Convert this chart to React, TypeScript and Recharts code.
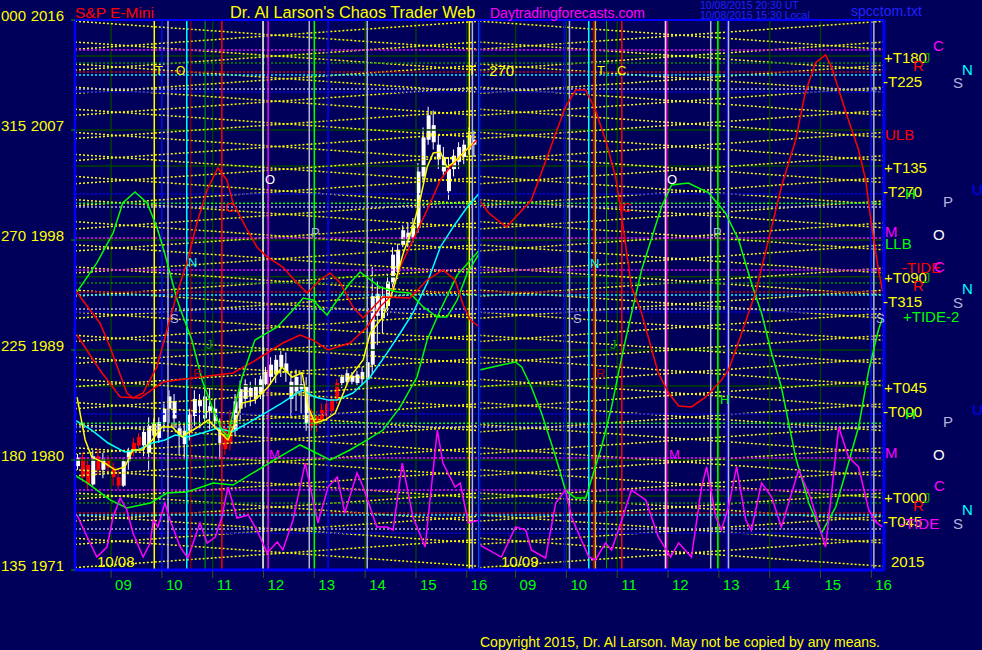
import React from 'react';
import { ComposedChart, XAxis, YAxis, Bar, Cell, Line, ReferenceLine } from 'recharts';

// session layout: two trading days side by side, hours on the x axis
const SESSION_START = 8.29;
const SESSION_LEN = 7.96;
const DOMAIN_END = SESSION_START + 2 * SESSION_LEN;

const hourTicks = [9, 10, 11, 12, 13, 14, 15, 16];
const priceTicks = [1971, 1980, 1989, 1998, 2007, 2016];
const degreeTicks = ['135', '180', '225', '270', '315', '000'];

// 6 minute candles, 10/08, starting 08:20
const candleStart = 8.34;
const candleStep = 0.1;
const candleOpen = [
  1979.5, 1980.2, 1979.6, 1978.0, 1980.3, 1979.2, 1980.1, 1979.4, 1978.6, 1977.9,
  1979.9, 1981.4, 1981.9, 1981.2, 1980.6, 1982.0, 1981.8, 1983.1, 1984.2, 1983.4,
  1982.0, 1981.3, 1982.4, 1983.6, 1984.4, 1983.4, 1984.0, 1983.2, 1981.4, 1982.6,
  1983.2, 1982.4, 1984.2, 1985.0, 1985.2, 1985.0, 1985.4, 1986.2, 1986.8, 1987.0,
  1987.6, 1987.2, 1985.0, 1985.6, 1985.8, 1983.0, 1984.0, 1983.6, 1984.1, 1984.6,
  1985.0, 1986.3, 1986.3, 1986.4, 1986.4, 1986.3, 1986.6, 1986.6, 1987.8, 1991.8,
  1991.6, 1992.6, 1994.4, 1995.4, 1997.6, 1997.8, 1998.2, 1999.0, 2003.2, 2006.2,
  2006.0, 2004.6, 2003.6, 2002.0, 2003.8, 2004.4, 2004.8, 2005.4, 2005.8,
];
const candleHigh = [
  1980.5, 1980.6, 1980.2, 1980.8, 1980.9, 1980.6, 1980.4, 1979.8, 1979.3, 1980.2,
  1981.0, 1981.8, 1982.2, 1982.6, 1983.5, 1983.4, 1983.5, 1984.6, 1985.7, 1985.4,
  1983.2, 1983.0, 1984.2, 1985.7, 1985.4, 1985.8, 1985.9, 1985.0, 1983.4, 1983.2,
  1984.1, 1985.4, 1986.5, 1986.6, 1986.4, 1986.7, 1986.9, 1987.6, 1988.4, 1988.6,
  1989.1, 1988.8, 1987.2, 1987.4, 1987.2, 1986.8, 1984.2, 1984.0, 1984.6, 1985.0,
  1985.3, 1986.6, 1987.0, 1987.4, 1987.2, 1987.3, 1987.6, 1988.8, 1995.8, 1994.6,
  1994.2, 1995.2, 1997.4, 1997.7, 1999.2, 1999.4, 1999.8, 2004.3, 2007.2, 2008.9,
  2008.6, 2006.6, 2005.6, 2004.8, 2005.4, 2006.0, 2006.2, 2007.2, 2007.0,
];
const candleLow = [
  1979.2, 1978.2, 1977.5, 1977.9, 1978.8, 1978.5, 1979.0, 1977.9, 1977.6, 1977.8,
  1979.2, 1980.3, 1980.9, 1980.3, 1979.2, 1981.4, 1981.4, 1982.4, 1983.0, 1982.6,
  1980.4, 1980.0, 1981.6, 1982.8, 1982.6, 1983.0, 1982.5, 1982.6, 1980.0, 1980.4,
  1980.8, 1982.0, 1983.3, 1984.3, 1984.4, 1984.6, 1985.0, 1986.0, 1986.2, 1986.3,
  1986.8, 1986.4, 1983.6, 1984.0, 1983.8, 1982.4, 1982.4, 1982.3, 1983.0, 1983.2,
  1983.6, 1984.6, 1985.9, 1986.1, 1986.2, 1986.1, 1986.2, 1986.1, 1987.0, 1989.4,
  1990.4, 1991.8, 1993.8, 1994.8, 1997.4, 1997.4, 1997.8, 1998.6, 2002.8, 2005.8,
  2005.4, 2003.8, 2003.2, 2001.3, 2003.2, 2003.8, 2004.2, 2005.0, 2004.8,
];
const candleClose = [
  1980.2, 1978.6, 1978.0, 1980.3, 1979.2, 1980.1, 1979.4, 1978.6, 1977.9, 1979.9,
  1980.7, 1980.8, 1981.2, 1982.3, 1982.8, 1983.0, 1983.1, 1984.2, 1985.2, 1984.8,
  1982.6, 1982.4, 1983.8, 1985.0, 1984.9, 1985.2, 1984.4, 1984.2, 1982.6, 1980.9,
  1981.4, 1984.8, 1985.8, 1986.2, 1985.9, 1986.0, 1986.6, 1987.2, 1987.8, 1988.2,
  1988.6, 1987.9, 1986.4, 1986.8, 1986.2, 1986.0, 1982.8, 1982.9, 1983.3, 1983.6,
  1984.0, 1985.0, 1986.8, 1987.1, 1986.9, 1987.0, 1987.2, 1988.0, 1993.4, 1993.6,
  1993.4, 1994.6, 1996.8, 1997.2, 1998.8, 1998.6, 1999.2, 2003.6, 2006.4, 2008.2,
  2007.4, 2005.8, 2004.8, 2003.8, 2004.9, 2005.6, 2005.8, 2006.6, 2006.2,
];

// moving averages on 10/08, [hour, price]
const yellowAvg = [
  [8.33, 1985.15], [8.49, 1981.64], [8.62, 1980.24], [8.88, 1979.75], [9.08, 1979.18],
  [9.27, 1979.43], [9.43, 1980.82], [9.61, 1980.82], [9.81, 1981.64], [10.0, 1982.7],
  [10.2, 1982.7], [10.4, 1981.88], [10.51, 1982.21], [10.71, 1982.7], [10.91, 1983.27],
  [11.1, 1982.45], [11.3, 1981.64], [11.44, 1983.03], [11.58, 1984.66], [11.83, 1984.91],
  [12.09, 1985.97], [12.36, 1987.61], [12.56, 1986.79], [12.76, 1987.12], [12.88, 1984.34],
  [13.01, 1983.03], [13.21, 1983.27], [13.41, 1983.84], [13.7, 1986.79], [13.96, 1988.18],
  [14.1, 1990.39], [14.35, 1991.7], [14.55, 1993.91], [14.75, 1996.94], [14.94, 1999.06],
  [15.08, 2001.27], [15.22, 2003.97], [15.34, 2005.12], [15.48, 2005.2], [15.61, 2003.97],
  [15.73, 2004.3], [15.93, 2005.12], [16.12, 2005.94],
];
const cyanAvg = [
  [8.29, 1983.27], [8.62, 1982.45], [8.94, 1981.39], [9.27, 1980.65], [9.53, 1980.82],
  [9.81, 1981.39], [10.06, 1981.64], [10.26, 1982.04], [10.51, 1981.88], [10.79, 1982.21],
  [11.1, 1982.62], [11.38, 1982.29], [11.7, 1983.03], [12.03, 1983.84], [12.36, 1984.66],
  [12.76, 1985.73], [13.01, 1985.15], [13.27, 1984.91], [13.45, 1984.91], [13.76, 1985.48],
  [14.1, 1986.79], [14.43, 1988.75], [14.69, 1990.39], [14.94, 1992.03], [15.22, 1994.48],
  [15.48, 1997.43], [15.73, 1999.06], [16.01, 2000.7], [16.25, 2001.85],
];
const redAvg = [
  [8.33, 1990.23], [8.78, 1987.36], [9.18, 1985.15], [9.57, 1985.07], [10.02, 1986.38],
  [10.75, 1986.79], [11.4, 1987.12], [11.79, 1988.02], [12.38, 1989.57], [12.72, 1990.23],
  [12.97, 1989.82], [13.27, 1989.0], [13.7, 1989.57], [14.04, 1990.88], [14.29, 1992.52],
  [14.49, 1993.34], [14.69, 1995.79], [14.94, 1998.0], [15.22, 2000.45], [15.48, 2002.91],
  [15.67, 2003.97], [15.93, 2005.12], [16.2, 2006.18],
];
const greenAvg = [
  [8.31, 1978.69], [8.53, 1978.12], [8.98, 1976.73], [9.31, 1976.07], [9.77, 1976.48],
  [10.1, 1977.3], [10.49, 1977.38], [11.01, 1978.12], [11.4, 1977.95], [11.79, 1978.94],
  [12.27, 1980.16], [12.72, 1981.23], [12.92, 1980.82], [13.31, 1980.0], [13.7, 1980.82],
  [14.04, 1981.64], [14.35, 1982.45], [14.69, 1984.34], [15.02, 1986.79], [15.22, 1989.82],
  [15.48, 1992.27], [15.81, 1995.13], [16.25, 1997.18],
];

// forecast curves, [hour, price]
const greenForecast1 = [
  [8.33, 1993.75], [8.72, 1996.12], [9.04, 1998.57], [9.23, 2001.03], [9.47, 2001.93],
  [9.71, 2001.03], [9.9, 1999.06], [10.02, 1997.43], [10.16, 1995.3], [10.3, 1993.09],
  [10.42, 1991.7], [10.59, 1989.82], [10.79, 1986.54], [10.99, 1984.34], [11.18, 1982.45],
  [11.3, 1981.88], [11.38, 1983.52], [11.58, 1986.79], [11.83, 1989.82], [12.27, 1990.88],
  [12.58, 1992.27], [12.78, 1993.25], [12.97, 1993.09], [13.25, 1991.86], [13.45, 1993.09],
  [13.7, 1994.48], [13.9, 1995.38], [14.29, 1994.15], [14.63, 1993.75], [14.88, 1993.66],
  [15.14, 1992.52], [15.42, 1991.7], [15.61, 1991.7], [15.81, 1993.09], [16.01, 1995.3],
  [16.25, 1996.94],
];
const greenForecast2 = [
  [8.29, 1987.36], [8.72, 1987.77], [9.0, 1988.02], [9.12, 1987.61], [9.31, 1985.97],
  [9.51, 1983.84], [9.79, 1980.24], [9.98, 1977.54], [10.18, 1976.89], [10.38, 1976.89],
  [10.49, 1978.36], [10.69, 1981.06], [10.89, 1984.34], [11.09, 1988.43], [11.22, 1990.88],
  [11.48, 1995.55], [11.87, 2000.7], [12.07, 2002.5], [12.4, 2002.66], [12.8, 2001.85],
  [13.13, 2000.21], [13.39, 1998.0], [13.64, 1994.48], [13.84, 1992.03], [14.02, 1989.0],
  [14.23, 1985.97], [14.51, 1980.24], [14.77, 1976.48], [15.02, 1974.03], [15.3, 1976.15],
  [15.55, 1979.75], [15.75, 1982.7], [15.95, 1987.36], [16.14, 1990.64], [16.22, 1991.62],
];
const redForecast1 = [
  [8.29, 1993.91], [8.78, 1991.21], [8.98, 1989.25], [9.31, 1985.48], [9.43, 1985.07],
  [9.63, 1985.48], [9.9, 1987.61], [10.1, 1990.64], [10.3, 1993.66], [10.49, 1996.12],
  [10.69, 1999.39], [10.89, 2002.09], [11.1, 2003.89], [11.28, 2002.91], [11.4, 2001.03],
  [11.68, 1998.82], [11.87, 1997.43], [12.07, 1996.61], [12.38, 1995.79], [12.66, 1994.48],
  [12.86, 1993.66], [13.11, 1994.73], [13.31, 1995.3], [13.51, 1994.48], [13.76, 1992.52],
  [13.96, 1991.62], [14.2, 1992.68], [14.35, 1993.34], [14.88, 1993.25], [15.22, 1994.73],
  [15.53, 1995.55], [15.77, 1994.73], [15.93, 1992.68], [16.07, 1991.45], [16.25, 1990.88],
];
const redForecast2 = [
  [8.29, 2001.27], [8.47, 2000.21], [8.82, 1999.06], [9.31, 2001.27], [9.65, 2005.12],
  [9.98, 2008.88], [10.18, 2010.27], [10.38, 2010.27], [10.57, 2008.64], [10.77, 2006.18],
  [10.97, 2003.15], [11.09, 1999.88], [11.28, 1994.15], [11.48, 1992.03], [11.68, 1989.0],
  [11.81, 1987.12], [12.01, 1985.48], [12.21, 1984.42], [12.46, 1984.34], [12.74, 1985.15],
  [13.05, 1986.54], [13.19, 1987.36], [13.45, 1990.39], [13.72, 1993.66], [14.04, 1999.06],
  [14.23, 2002.34], [14.51, 2006.18], [14.7, 2010.03], [14.9, 2012.48], [15.1, 2013.14],
  [15.22, 2012.15], [15.36, 2010.27], [15.55, 2007.82], [15.75, 2005.36], [15.89, 2002.91],
  [16.01, 1999.06], [16.14, 1995.55], [16.22, 1993.91],
];
const tide1 = [
  [8.33, 1975.5], [8.53, 1973.7], [8.72, 1972.06], [8.92, 1972.88], [9.04, 1975.34],
  [9.18, 1976.89], [9.31, 1975.91], [9.43, 1974.03], [9.63, 1972.06], [9.77, 1973.21],
  [9.83, 1975.09], [9.92, 1974.52], [10.06, 1976.48], [10.16, 1975.09], [10.36, 1972.88],
  [10.51, 1971.98], [10.75, 1974.85], [10.89, 1973.21], [11.05, 1973.7], [11.18, 1975.34],
  [11.3, 1977.79], [11.48, 1975.25], [11.7, 1975.5], [11.87, 1974.27], [12.07, 1972.39],
  [12.27, 1973.29], [12.38, 1972.64], [12.58, 1975.09], [12.82, 1979.75], [12.92, 1977.79],
  [13.07, 1974.85], [13.27, 1977.79], [13.45, 1978.61], [13.6, 1975.66], [13.84, 1978.94],
  [13.96, 1977.79], [14.23, 1974.52], [14.43, 1974.52], [14.55, 1974.27], [14.73, 1979.75],
  [14.94, 1975.34], [15.18, 1972.88], [15.42, 1982.45], [15.53, 1979.75], [15.77, 1977.79],
  [15.87, 1978.12], [16.03, 1974.85], [16.25, 1975.09],
];
const tide2 = [
  [8.29, 1973.05], [8.72, 1972.06], [9.0, 1974.52], [9.2, 1974.27], [9.31, 1972.64],
  [9.59, 1971.98], [9.79, 1976.48], [9.98, 1977.54], [10.1, 1975.34], [10.44, 1972.06],
  [10.57, 1971.82], [10.77, 1973.21], [10.89, 1972.64], [11.09, 1975.09], [11.28, 1977.54],
  [11.56, 1976.73], [11.81, 1973.7], [12.05, 1972.06], [12.21, 1973.21], [12.46, 1972.06],
  [12.66, 1977.79], [12.76, 1979.43], [12.94, 1975.34], [13.05, 1974.27], [13.19, 1976.15],
  [13.35, 1979.43], [13.53, 1975.09], [13.64, 1974.27], [13.84, 1978.12], [14.04, 1976.97],
  [14.23, 1974.52], [14.57, 1979.18], [14.8, 1976.97], [15.1, 1972.88], [15.36, 1982.7],
  [15.55, 1980.24], [15.75, 1979.43], [15.95, 1975.91], [16.09, 1974.93], [16.22, 1974.52],
];

// yellow chaos lattice, price at start and end of each session
const riseStart = [
  1971.2, 1973.1, 1975.0, 1976.8, 1978.7, 1980.5, 1982.3, 1984.2, 1986.0, 1987.9, 1989.7, 1991.6,
  1993.4, 1995.3, 1997.1, 1998.9, 2000.8, 2002.6, 2004.5, 2006.3, 2008.2, 2010.0, 2011.9, 2013.6,
];
const riseEnd = [
  1973.5, 1975.4, 1977.3, 1979.1, 1981.0, 1982.8, 1984.6, 1986.5, 1988.3, 1990.2, 1992.0, 1993.9,
  1995.7, 1997.6, 1999.4, 2001.2, 2003.1, 2004.9, 2006.8, 2008.6, 2010.5, 2012.3, 2014.2, 2015.9,
];
const fallStart = [
  1973.6, 1975.5, 1977.3, 1979.2, 1981.0, 1982.9, 1984.7, 1986.6, 1988.4, 1990.2, 1992.1, 1993.9,
  1995.8, 1997.6, 1999.5, 2001.3, 2003.2, 2005.0, 2006.8, 2008.7, 2010.5, 2012.4, 2014.2, 2015.9,
];
const fallEnd = [
  1971.3, 1973.2, 1975.0, 1976.9, 1978.7, 1980.6, 1982.4, 1984.3, 1986.1, 1987.9, 1989.8, 1991.6,
  1993.5, 1995.3, 1997.2, 1999.0, 2000.9, 2002.7, 2004.5, 2006.4, 2008.2, 2010.1, 2011.9, 2013.6,
];

// horizontal levels
const gridLevels = [2013.05, 2007, 2004.05, 1998, 1995, 1989, 1986.05, 1980, 1977.05];
const magentaLevels = [2013.55, 1998.16, 1995.55, 1980.16, 1977.55];
const darkGreenLevels = [2012.48, 1994.48, 1976.48];
const redLevels = [2011.75, 1993.75, 1975.66];
const cyanLevels = [2011.5, 1993.5, 1975.5];
const lavenderLevels = [2010.35, 2000.7, 1992.35, 1982.7, 1974.35];
const blueLevels = [2010.1, 2001.76, 1992.1, 1983.76, 1974.0];
const limeLevels = [2001.0, 1983.0];

// vertical time lines, hours, per day
const yellowTimes1 = [9.85, 16.05];
const blueTimes1 = [10.0, 13.27];
const lavenderTimes1 = [10.12, 12.9, 14.04, 16.11];
const cyanTimes1 = [10.49];
const darkRedTimes1 = [10.57];
const greenTimes1 = [10.85];
const redTimes1 = [11.18];
const whiteTimes1 = [11.99];
const magentaTimes1 = [12.09];
const limeTimes1 = [13.0, 16.24];
const blueTimes2 = [9.96, 13.17, 15.99];
const lavenderTimes2 = [10.06, 12.84, 13.19, 16.05];
const cyanTimes2 = [10.44];
const darkRedTimes2 = [10.53];
const orangeTimes2 = [10.57];
const greenTimes2 = [10.79];
const redTimes2 = [11.09];
const whiteTimes2 = [11.95];
const magentaTimes2 = [11.97];
const limeTimes2 = [12.98];

const FONT = '"Liberation Sans", Arial, sans-serif';
const NAVY = '#00005a';
const YEL = '#ffff00';
const MAG = '#ff00ff';
const RED = '#ff0000';
const DRED = '#b00000';
const CYAN = '#00ffff';
const LIME = '#00ff00';
const GREEN = '#00a000';
const LAV = '#b4b4dc';
const BLUE = '#0000ff';
const WHITE = '#ffffff';
const GRID = '#004000';

const onDay = (h: number, day: number) => h + (day - 1) * SESSION_LEN;
const toPoints = (pairs: number[][], day: number) => pairs.map(([h, p]) => ({ x: onDay(h, day), y: p }));

const candles = candleOpen.map((o, i) => {
  const c = candleClose[i];
  return {
    x: candleStart + i * candleStep,
    wick: [candleLow[i], candleHigh[i]],
    body: [Math.min(o, c), Math.max(o, c)],
    up: c >= o,
  };
});

const xTicks = [...hourTicks.map((h) => onDay(h, 1)), ...hourTicks.map((h) => onDay(h, 2))];

const HourTick = (props: any) => {
  const v = props.payload.value;
  const h = Math.round(v > SESSION_START + SESSION_LEN ? v - SESSION_LEN : v);
  return (
    <text x={props.x + 4} y={props.y + 10} fill={LIME} fontSize={15} fontFamily={FONT}>
      {String(h).padStart(2, '0')}
    </text>
  );
};

const PriceTick = (props: any) => {
  const v = props.payload.value;
  const deg = degreeTicks[priceTicks.indexOf(v)];
  return (
    <g fontFamily={FONT} fontSize={15} fill={YEL}>
      <text x={1} y={props.y + 1}>{deg}</text>
      <text x={64} y={props.y + 1} textAnchor="end">{v}</text>
    </g>
  );
};

const header = [
  { t: 'S&P E-Mini', x: 75, y: 18, c: RED, s: 15.5 },
  { t: "Dr. Al Larson's Chaos Trader Web", x: 230, y: 18, c: YEL, s: 16.3 },
  { t: 'Daytradingforecasts.com', x: 490, y: 18, c: MAG, s: 14 },
  { t: '10/08/2015 20:30 UT', x: 700, y: 9, c: '#2020ff', s: 10.5 },
  { t: '10/08/2015 15:30 Local', x: 700, y: 19, c: '#2020ff', s: 10.5 },
  { t: 'spcctom.txt', x: 851, y: 16, c: '#2020ff', s: 14 },
  { t: 'Copyright 2015, Dr. Al Larson. May not be copied by any means.', x: 480, y: 647, c: YEL, s: 14 },
];

const sideLabels: [string, number, number, string][] = [
  ['+T180', 884, 63, YEL], ['C', 933, 51, MAG], ['R', 913, 71, RED], ['J', 923, 63, GREEN],
  ['N', 962, 75, CYAN], ['-T225', 883, 87, YEL], ['S', 953, 88, LAV], ['ULB', 885, 140, RED],
  ['+T135', 884, 173, YEL], ['-T270', 883, 197, YEL], ['H', 905, 199, LIME], ['U', 972, 195, BLUE],
  ['P', 943, 207, LAV], ['M', 885, 237, MAG], ['O', 933, 240, WHITE], ['LLB', 885, 249, LIME],
  ['-TIDE', 902, 273, RED], ['C', 934, 272, MAG], ['+T090', 884, 283, YEL], ['J', 923, 283, GREEN],
  ['R', 913, 291, RED], ['N', 962, 294, CYAN], ['-T315', 883, 307, YEL], ['S', 953, 308, LAV],
  ['+TIDE-2', 903, 322, LIME],
  ['+T045', 884, 393, YEL], ['-T000', 883, 417, YEL], ['H', 905, 419, LIME], ['U', 972, 415, BLUE],
  ['P', 943, 427, LAV], ['M', 885, 458, MAG], ['O', 933, 460, WHITE], ['C', 934, 491, MAG],
  ['+T000', 884, 503, YEL], ['J', 923, 503, GREEN], ['R', 913, 511, RED], ['N', 962, 515, CYAN],
  ['-T045', 883, 527, YEL], ['-TIDE', 900, 529, MAG], ['S', 953, 529, LAV], ['2015', 891, 567, YEL],
];

const plotLabels: [string, number, number, string, number][] = [
  ['T', 155, 75, YEL, 13], ['O', 176, 75, YEL, 12], ['T', 468, 75, YEL, 13], ['270', 489, 76, YEL, 15],
  ['T', 597, 75, YEL, 13], ['C', 617, 75, YEL, 13],
  ['O', 265, 184, WHITE, 13], ['O', 667, 184, WHITE, 13],
  ['P', 311, 237, LAV, 13], ['P', 713, 237, LAV, 13],
  ['N', 188, 267, CYAN, 13], ['N', 590, 268, CYAN, 13],
  ['C', 225, 212, RED, 13], ['C', 622, 212, RED, 13],
  ['S', 170, 323, LAV, 13], ['S', 573, 323, LAV, 13], ['S', 876, 323, LAV, 13],
  ['R', 193, 378, DRED, 13], ['R', 596, 378, DRED, 13],
  ['J', 206, 349, GREEN, 13], ['J', 610, 349, GREEN, 13],
  ['M', 269, 459, MAG, 13], ['M', 669, 459, MAG, 13],
  ['H', 720, 404, LIME, 13],
  ['10/08', 97, 567, YEL, 15], ['10/09', 501, 567, YEL, 15],
];

export default function App() {
  const dom: [number, number] = [SESSION_START, DOMAIN_END];
  const dotted = '2 2';

  const verticals: [number[], number[], string, number][] = [
    [yellowTimes1, [], YEL, 1.5],
    [blueTimes1, blueTimes2, BLUE, 1.5],
    [lavenderTimes1, lavenderTimes2, LAV, 1.5],
    [cyanTimes1, cyanTimes2, CYAN, 1.5],
    [darkRedTimes1, darkRedTimes2, DRED, 1],
    [[], orangeTimes2, '#ffb000', 1.5],
    [greenTimes1, greenTimes2, '#00a000', 1],
    [redTimes1, redTimes2, RED, 1.5],
    [whiteTimes1, whiteTimes2, WHITE, 1.5],
    [magentaTimes1, magentaTimes2, MAG, 1.5],
    [limeTimes1, limeTimes2, LIME, 1.5],
  ];
  const horizontals: [number[], string][] = [
    [magentaLevels, MAG],
    [darkGreenLevels, '#009000'],
    [redLevels, '#d00000'],
    [cyanLevels, CYAN],
    [lavenderLevels, LAV],
    [blueLevels, BLUE],
    [limeLevels, LIME],
  ];

  return (
    <div style={{ position: 'absolute', left: 0, top: 0, width: 982, height: 650, background: NAVY, overflow: 'hidden' }}>
      <ComposedChart width={982} height={650} data={candles} margin={{ top: 20, right: 98, bottom: 0, left: 0 }}>
        <XAxis
          type="number"
          dataKey="x"
          domain={dom}
          allowDataOverflow
          ticks={xTicks}
          interval={0}
          height={80}
          axisLine={false}
          tickLine={{ stroke: '#305030' }}
          tickSize={8}
          tick={HourTick}
        />
        <XAxis xAxisId="w" type="number" dataKey="x" domain={dom} allowDataOverflow hide />
        <XAxis xAxisId="b" type="number" dataKey="x" domain={dom} allowDataOverflow hide />
        <YAxis
          type="number"
          domain={[1971, 2016]}
          allowDataOverflow
          ticks={priceTicks}
          interval={0}
          width={75}
          axisLine={false}
          tickLine={{ stroke: '#00a000' }}
          tickSize={4}
          tick={PriceTick}
        />

        {gridLevels.map((p) => (
          <ReferenceLine key={'g' + p} y={p} stroke={GRID} strokeWidth={1.5} />
        ))}
        {xTicks.map((h) => (
          <ReferenceLine key={'gx' + h} x={h} stroke={GRID} strokeWidth={1.5} />
        ))}

        {[1, 2].flatMap((day) =>
          riseStart.map((p, i) => (
            <ReferenceLine
              key={`r${day}-${i}`}
              segment={[{ x: onDay(SESSION_START, day), y: p }, { x: onDay(SESSION_START + SESSION_LEN, day), y: riseEnd[i] }]}
              stroke={YEL}
              strokeWidth={1.5}
              strokeDasharray={dotted}
            />
          )),
        )}
        {[1, 2].flatMap((day) =>
          fallStart.map((p, i) => (
            <ReferenceLine
              key={`f${day}-${i}`}
              segment={[{ x: onDay(SESSION_START, day), y: p }, { x: onDay(SESSION_START + SESSION_LEN, day), y: fallEnd[i] }]}
              stroke={YEL}
              strokeWidth={1.5}
              strokeDasharray={dotted}
            />
          )),
        )}

        {horizontals.flatMap(([levels, color]) =>
          levels.map((p) => (
            <ReferenceLine key={'h' + color + p} y={p} stroke={color} strokeWidth={1.5} strokeDasharray={dotted} />
          )),
        )}

        {verticals.flatMap(([d1, d2, color, w]) => [
          ...d1.map((h) => <ReferenceLine key={'v1' + color + h} x={onDay(h, 1)} stroke={color} strokeWidth={w} />),
          ...d2.map((h) => <ReferenceLine key={'v2' + color + h} x={onDay(h, 2)} stroke={color} strokeWidth={w} />),
        ])}

        <Bar xAxisId="w" dataKey="wick" barSize={1} isAnimationActive={false}>
          {candles.map((c, i) => (
            <Cell key={i} fill={c.up ? WHITE : RED} />
          ))}
        </Bar>
        <Bar xAxisId="b" dataKey="body" barSize={4} isAnimationActive={false}>
          {candles.map((c, i) => (
            <Cell key={i} fill={c.up ? WHITE : RED} />
          ))}
        </Bar>

        <Line data={toPoints(greenAvg, 1)} dataKey="y" stroke={LIME} strokeWidth={1.5} dot={false} isAnimationActive={false} />
        <Line data={toPoints(cyanAvg, 1)} dataKey="y" stroke={CYAN} strokeWidth={1.5} dot={false} isAnimationActive={false} />
        <Line data={toPoints(redAvg, 1)} dataKey="y" stroke={RED} strokeWidth={1.5} dot={false} isAnimationActive={false} />
        <Line data={toPoints(yellowAvg, 1)} dataKey="y" stroke={YEL} strokeWidth={1.5} dot={false} isAnimationActive={false} />

        <Line data={toPoints(greenForecast1, 1)} dataKey="y" stroke={LIME} strokeWidth={1.5} dot={false} isAnimationActive={false} />
        <Line data={toPoints(greenForecast2, 2)} dataKey="y" stroke={LIME} strokeWidth={1.5} dot={false} isAnimationActive={false} />
        <Line data={toPoints(redForecast1, 1)} dataKey="y" stroke={RED} strokeWidth={1.5} dot={false} isAnimationActive={false} />
        <Line data={toPoints(redForecast2, 2)} dataKey="y" stroke={RED} strokeWidth={1.5} dot={false} isAnimationActive={false} />
        <Line data={toPoints(tide1, 1)} dataKey="y" stroke={MAG} strokeWidth={1.5} dot={false} isAnimationActive={false} />
        <Line data={toPoints(tide2, 2)} dataKey="y" stroke={MAG} strokeWidth={1.5} dot={false} isAnimationActive={false} />

        <ReferenceLine x={SESSION_START + SESSION_LEN} stroke={BLUE} strokeWidth={2} />
        <ReferenceLine x={SESSION_START} stroke={BLUE} strokeWidth={2.5} />
        <ReferenceLine x={DOMAIN_END} stroke={BLUE} strokeWidth={3} />
        <ReferenceLine y={2016} stroke={BLUE} strokeWidth={2} />
        <ReferenceLine y={1971} stroke={BLUE} strokeWidth={3} />
      </ComposedChart>

      <svg width={982} height={650} style={{ position: 'absolute', left: 0, top: 0, pointerEvents: 'none' }} fontFamily={FONT}>
        {header.map((n) => (
          <text key={n.t} x={n.x} y={n.y} fill={n.c} fontSize={n.s}>{n.t}</text>
        ))}
        {sideLabels.map(([t, x, y, c], i) => (
          <text key={'s' + i} x={x} y={y} fill={c} fontSize={15}>{t}</text>
        ))}
        {plotLabels.map(([t, x, y, c, s], i) => (
          <text key={'p' + i} x={x} y={y} fill={c} fontSize={s}>{t}</text>
        ))}
      </svg>
    </div>
  );
}
